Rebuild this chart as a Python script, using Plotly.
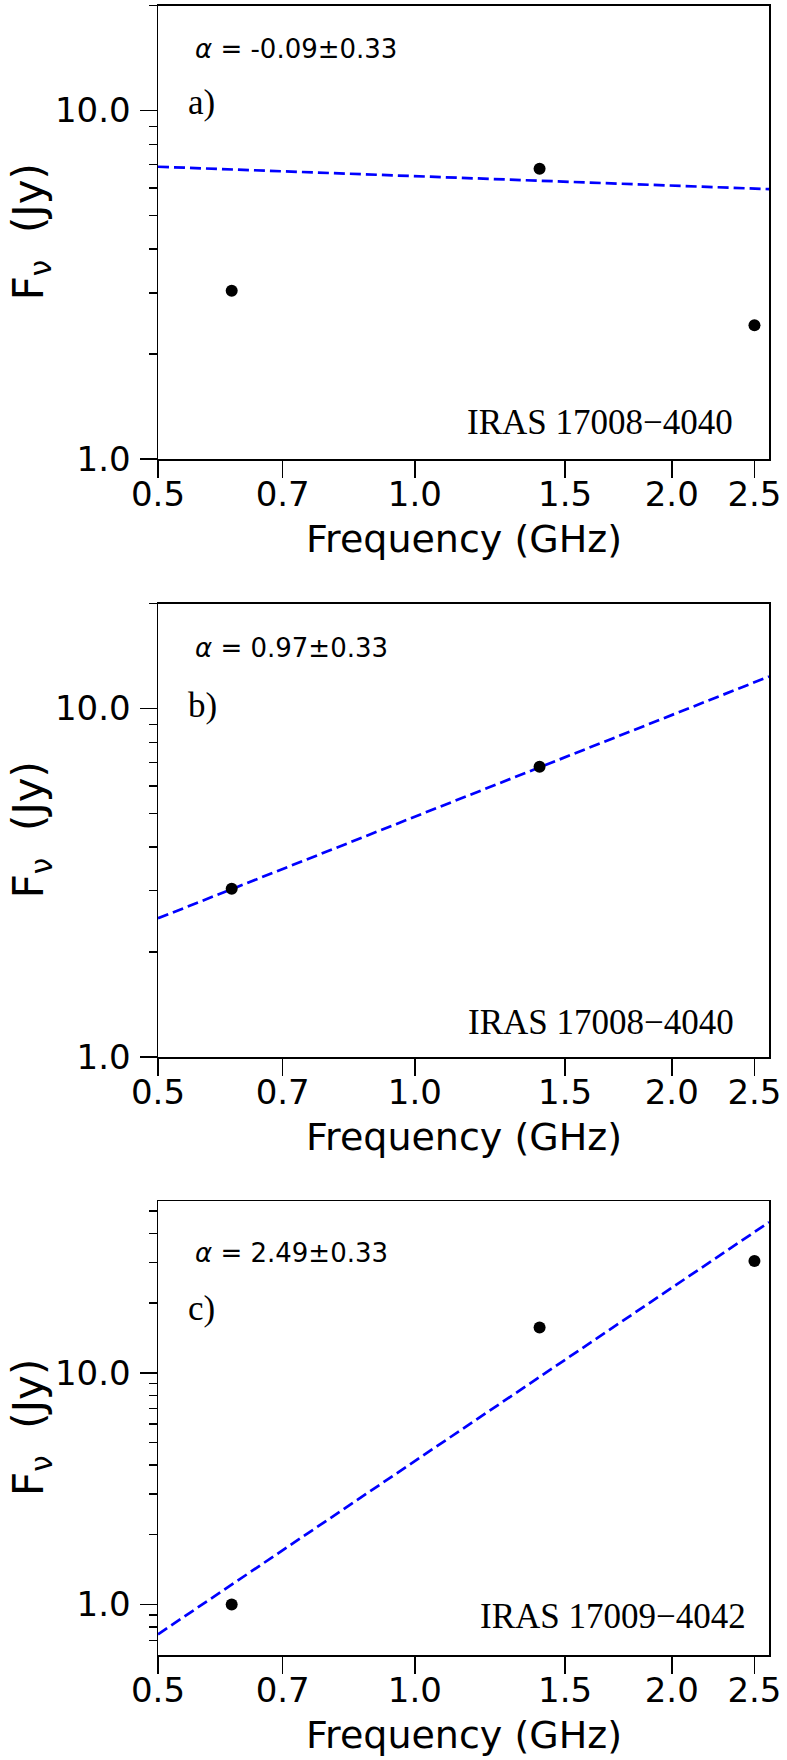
import math
import plotly.graph_objects as go

# ---------------- data ----------------
freq_ghz = [0.61, 1.4, 2.5]
flux_a = [3.04, 6.81, 2.42]
freq_b = [0.61, 1.4]
flux_b = [3.04, 6.81]
flux_c = [1.0, 15.7, 30.4]

fit_x = [0.5, 2.6]
fit_a = [6.90, 5.95]
fit_b = [2.50, 12.35]
fit_c = [0.743, 44.7]

alpha_labels = ["-0.09±0.33", "0.97±0.33", "2.49±0.33"]
panel_labels = ["a)", "b)", "c)"]
source_names = ["IRAS 17008\u22124040", "IRAS 17008\u22124040", "IRAS 17009\u22124042"]

xtick_vals = [0.5, 0.7, 1.0, 1.5, 2.0, 2.5]
xtick_text = ["0.5", "0.7", "1.0", "1.5", "2.0", "2.5"]
ytick_vals = [1, 10]
ytick_text = ["1.0", "10.0"]
yminor_vals = [0.6, 0.7, 0.8, 0.9, 2, 3, 4, 5, 6, 7, 8, 9, 20, 30, 40, 50]
x_range = [0.5, 2.6]
y_ranges = [[1.0, 20.0], [1.0, 20.0], [0.605, 55.2]]

# ---------------- layout geometry (pixels) ----------------
W, H = 787, 1760
x_left, x_right = 158, 769
panels_px = [(5.7, 459.0), (603.6, 1057.0), (1201.0, 1655.0)]  # top, bottom

fig = go.Figure()

series = [
    (freq_ghz, flux_a, fit_a),
    (freq_b, flux_b, fit_b),
    (freq_ghz, flux_c, fit_c),
]

alpha_y = [0.9036, 0.901, 0.885]
plabel_y = [0.786, 0.775, 0.764]
src_x = [0.944, 0.946, 0.966]
src_y = [0.08, 0.075, 0.084]

annotations = []
layout_axes = {}
for i, (xs, ys, fy) in enumerate(series):
    n = "" if i == 0 else str(i + 1)
    xa = "x" + n
    ya = "y" + n
    fig.add_trace(go.Scatter(
        x=fit_x, y=fy, mode="lines", xaxis=xa, yaxis=ya,
        line=dict(color="#0000ff", width=2.7, dash="11px,5px"),
        showlegend=False, hoverinfo="skip"))
    fig.add_trace(go.Scatter(
        x=xs, y=ys, mode="markers", xaxis=xa, yaxis=ya,
        marker=dict(color="black", size=12),
        showlegend=False))
    top, bot = panels_px[i]
    ydom = [1 - bot / H, 1 - top / H]
    common = dict(
        showline=True, linecolor="black", linewidth=1.5, mirror=True,
        ticks="outside", ticklen=17, tickwidth=1.5, tickcolor="black",
        showgrid=False, zeroline=False, automargin=False,
        tickfont=dict(family="DejaVu Sans", size=34, color="black"),
    )
    layout_axes["xaxis" + n] = dict(
        type="log", range=[math.log10(x_range[0]), math.log10(x_range[1])],
        domain=[x_left / W, x_right / W], anchor=ya,
        tickmode="array", tickvals=xtick_vals, ticktext=xtick_text,
        ticklabelstandoff=-12,
        **common)
    layout_axes["yaxis" + n] = dict(
        type="log", range=[math.log10(y_ranges[i][0]), math.log10(y_ranges[i][1])],
        domain=ydom, anchor=xa,
        tickmode="array", tickvals=ytick_vals, ticktext=ytick_text,
        ticklabelstandoff=2,
        minor=dict(ticks="outside", ticklen=8, tickwidth=1.5, tickcolor="black",
                   tickmode="array", tickvals=yminor_vals, showgrid=False),
        **common)

    xd = xa + " domain"
    yd = ya + " domain"
    annotations.append(dict(
        xref=xd, yref=yd, x=0.057, y=alpha_y[i], xanchor="left", yanchor="middle",
        text="<i>α</i> = " + alpha_labels[i], showarrow=False,
        font=dict(family="DejaVu Sans", size=26, color="black")))
    annotations.append(dict(
        xref=xd, yref=yd, x=0.046, y=plabel_y[i], xanchor="left", yanchor="middle",
        text=panel_labels[i], showarrow=False,
        font=dict(family="Liberation Serif", size=35, color="black")))
    annotations.append(dict(
        xref=xd, yref=yd, x=src_x[i], y=src_y[i], xanchor="right", yanchor="middle",
        text=source_names[i], showarrow=False,
        font=dict(family="Liberation Serif", size=35, color="black")))
    # axis titles
    annotations.append(dict(
        xref="paper", yref="paper", x=(x_left + x_right) / 2 / W,
        y=1 - (bot + 80) / H, xanchor="center", yanchor="middle",
        text="Frequency (GHz)", showarrow=False,
        font=dict(family="DejaVu Sans", size=38, color="black")))
    annotations.append(dict(
        xref="paper", yref="paper", x=31 / W,
        y=1 - (top + bot) / 2 / H, xanchor="center", yanchor="middle",
        text="F<sub>ν</sub>\u00a0 (Jy)", textangle=-90, showarrow=False,
        font=dict(family="DejaVu Sans", size=42, color="black")))

fig.update_layout(
    template="none",
    width=W, height=H,
    margin=dict(l=0, r=0, t=0, b=0, autoexpand=False),
    paper_bgcolor="white", plot_bgcolor="white",
    font=dict(family="DejaVu Sans", color="black"),
    annotations=annotations,
    **layout_axes)

fig.write_html("out.html",
               config={"displayModeBar": False, "staticPlot": True},
               post_script="document.body.style.margin='0px';document.body.style.padding='0px';")
